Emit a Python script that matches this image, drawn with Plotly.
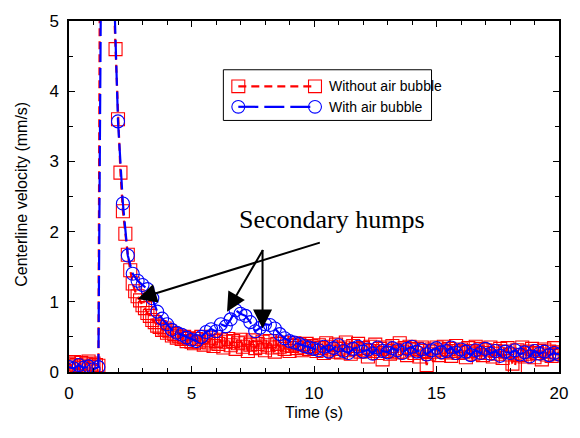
import plotly.graph_objects as go

# Sampling grids (s)
t_without = [round(i * 0.1, 1) for i in range(201)]
t_with = [round(i * 0.2, 1) for i in range(101)]

# Centerline velocity without an air bubble (mm/s), sampled every 0.1 s
v_without = [
    0.12, 0.08, 0.14, 0.10, 0.06, 0.13, 0.09, 0.11, 0.15, 0.07, 0.12, 0.10, 0.09,
    9.60, 11.80, 10.40, 8.90, 7.10, 5.60,
    4.60, 3.60, 2.84, 2.29, 1.97, 1.67, 1.45, 1.26, 1.15, 1.08,
    1.02, 0.95, 0.91, 0.84, 0.80, 0.74, 0.71, 0.66, 0.64, 0.60,
    0.62, 0.56, 0.58, 0.52, 0.54, 0.49, 0.51, 0.47, 0.50, 0.44, 0.48, 0.43,
    0.41, 0.47, 0.43, 0.50, 0.39, 0.45, 0.42, 0.48, 0.37, 0.44,
    0.40, 0.46, 0.35, 0.43, 0.47, 0.38, 0.44, 0.33, 0.41, 0.46,
    0.36, 0.42, 0.30, 0.39, 0.45, 0.34, 0.40, 0.36, 0.43, 0.31,
    0.38, 0.44, 0.35, 0.29, 0.40, 0.36, 0.42, 0.33, 0.38, 0.30,
    0.37, 0.41, 0.34, 0.39, 0.31, 0.36, 0.40, 0.33, 0.37, 0.35,
    0.30, 0.38, 0.34, 0.27, 0.41, 0.32, 0.36, 0.29, 0.39, 0.33,
    0.28, 0.35, 0.42, 0.31, 0.26, 0.37, 0.33, 0.40, 0.29, 0.34,
    0.31, 0.22, 0.36, 0.30, 0.39, 0.27, 0.33, 0.18, 0.35, 0.30,
    0.26, 0.37, 0.32, 0.28, 0.41, 0.29, 0.34, 0.24, 0.36, 0.31,
    0.27, 0.33, 0.22, 0.35, 0.30, 0.10, 0.26, 0.32, 0.29, 0.35,
    0.24, 0.31, 0.36, 0.28, 0.33, 0.23, 0.30, 0.37, 0.27, 0.32,
    0.29, 0.21, 0.34, 0.30, 0.26, 0.36, 0.28, 0.33, 0.24, 0.31,
    0.27, 0.35, 0.22, 0.30, 0.26, 0.33, 0.20, 0.29, 0.34, 0.25,
    0.12, 0.08, 0.31, 0.24, 0.35, 0.22, 0.29, 0.26, 0.33, 0.21,
    0.27, 0.30, 0.18, 0.32, 0.25, 0.29, 0.23, 0.34, 0.26, 0.28,
]

# Centerline velocity with an air bubble (mm/s), sampled every 0.2 s
v_with = [
    0.07, 0.05, 0.10, 0.06, 0.08, 0.04, 0.07,
    10.50, 8.20, 5.75, 3.57, 2.40, 1.66, 1.40, 1.30, 1.24, 1.18, 1.05,
    0.86, 0.76, 0.68, 0.60, 0.56, 0.53, 0.49, 0.46, 0.44, 0.50, 0.57,
    0.61, 0.58, 0.68, 0.65, 0.75, 0.88, 0.83, 0.80, 0.71, 0.58, 0.63,
    0.68, 0.67, 0.62, 0.54, 0.48, 0.44, 0.42, 0.40, 0.37, 0.35, 0.33,
    0.31, 0.36, 0.29, 0.34, 0.38, 0.30, 0.27, 0.33, 0.36, 0.29,
    0.32, 0.26, 0.35, 0.30, 0.28, 0.34, 0.31, 0.27, 0.33, 0.36,
    0.29, 0.32, 0.25, 0.31, 0.34, 0.28, 0.30, 0.35, 0.27, 0.32,
    0.29, 0.24, 0.31, 0.27, 0.33, 0.26, 0.30, 0.23, 0.29, 0.27,
    0.31, 0.25, 0.28, 0.22, 0.30, 0.26, 0.29, 0.24, 0.27, 0.25,
]

series_names = ["Without air bubble", "With air bubble"]

# Arrows pointing at the secondary humps: (tip_t, tip_v, tail_t, tail_v)
hump_arrows = [
    (2.80, 1.04, 10.30, 1.85),
    (6.45, 0.86, 7.95, 1.76),
    (7.90, 0.62, 7.90, 1.76),
]

RED = "#ff0000"
BLUE = "#0000ff"
SANS = "Liberation Sans, Arial, sans-serif"
SERIF = "Liberation Serif, Times New Roman, serif"

W, H = 580, 438
ML, MR, MT, MB = 69, 19, 12, 66
PW, PH = W - ML - MR, H - MT - MB


def px(xp):
    return (xp - ML) / PW


def py(yp):
    return (H - MB - yp) / PH


fig = go.Figure()

fig.add_trace(go.Scatter(
    x=t_without, y=v_without, mode="lines+markers", name=series_names[0],
    line=dict(color=RED, width=2.2, dash="8px,5px"),
    marker=dict(symbol="square-open", size=13, color=RED, line=dict(width=1.1)),
    showlegend=False,
))
fig.add_trace(go.Scatter(
    x=t_with, y=v_with, mode="lines+markers", name=series_names[1],
    line=dict(color=BLUE, width=2.2, dash="20px,6px"),
    marker=dict(symbol="circle-open", size=13, color=BLUE, line=dict(width=1.1)),
    showlegend=False,
))

axis_common = dict(
    showline=True, linecolor="black", linewidth=1.5, mirror="ticks",
    ticks="inside", ticklen=6, tickwidth=1, tickcolor="black",
    showgrid=False, zeroline=False,
    tickfont=dict(family=SANS, size=17, color="black"),
)
fig.update_xaxes(range=[0, 20], tick0=0, dtick=5,
                 minor=dict(ticks="inside", dtick=1, ticklen=4, tickcolor="black"),
                 ticklabelstandoff=5, **axis_common)
fig.update_yaxes(range=[0, 5], tick0=0, dtick=1,
                 minor=dict(ticks="inside", dtick=0.5, ticklen=4, tickcolor="black"),
                 ticklabelstandoff=5, **axis_common)

annotations = [
    dict(text="Time (s)", x=0.5, y=py(414), xref="paper", yref="paper",
         xanchor="center", yanchor="middle", showarrow=False,
         font=dict(family=SANS, size=16, color="black")),
    dict(text="Centerline velocity (mm/s)", x=px(21), y=py(190), xref="paper", yref="paper",
         xanchor="center", yanchor="middle", textangle=-90, showarrow=False,
         font=dict(family=SANS, size=16, color="black")),
    dict(text="Secondary humps", x=px(333), y=py(216), xref="paper", yref="paper",
         xanchor="center", yanchor="middle", showarrow=False,
         font=dict(family=SERIF, size=26, color="black")),
]
for tip_t, tip_v, tail_t, tail_v in hump_arrows:
    annotations.append(dict(
        x=tip_t, y=tip_v, ax=tail_t, ay=tail_v, xref="x", yref="y", axref="x", ayref="y",
        text="", showarrow=True, arrowhead=2, arrowsize=1.9, arrowwidth=2,
        arrowcolor="black", standoff=0, startstandoff=0,
    ))

# Legend drawn as a framed key with a marker at each end of the line sample
shapes = [dict(type="rect", xref="paper", yref="paper",
               x0=px(224), x1=px(433), y0=py(62), y1=py(114),
               line=dict(color="black", width=1), fillcolor="white", layer="above")]
rows = [(79, RED, "8px,5px", "rect"), (100, BLUE, "20px,6px", "circle")]
xa, xb, half = 239, 316, 6.5
for (yrow, col, dash, kind), label in zip(rows, series_names):
    shapes.append(dict(type="line", xref="paper", yref="paper",
                       x0=px(xa), x1=px(xb), y0=py(yrow), y1=py(yrow),
                       line=dict(color=col, width=2.2, dash=dash), layer="above"))
    for xc in (xa, xb):
        shapes.append(dict(type=kind, xref="paper", yref="paper",
                           x0=px(xc - half), x1=px(xc + half),
                           y0=py(yrow + half), y1=py(yrow - half),
                           line=dict(color=col, width=1.1), layer="above"))
    annotations.append(dict(text=label, x=px(328), y=py(yrow), xref="paper", yref="paper",
                            xanchor="left", yanchor="middle", showarrow=False,
                            font=dict(family=SANS, size=14, color="black")))

fig.update_layout(
    width=W, height=H, margin=dict(l=ML, r=MR, t=MT, b=MB),
    paper_bgcolor="white", plot_bgcolor="white",
    annotations=annotations, shapes=shapes, showlegend=False,
)

fig.write_html("out.html")
